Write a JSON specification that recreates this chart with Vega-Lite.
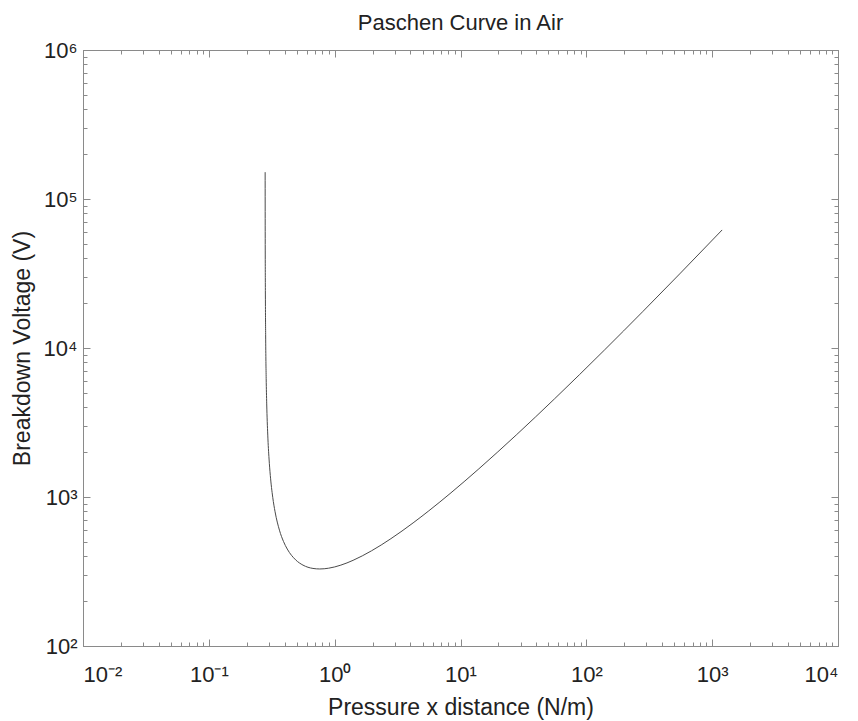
{
  "$schema": "https://vega.github.io/schema/vega-lite/v6.json",
  "width": 755,
  "height": 596,
  "autosize": {"type": "none"},
  "padding": {"left": 83, "top": 50, "right": 20, "bottom": 75},
  "background": "white",
  "title": {
    "text": "Paschen Curve in Air",
    "font": "Liberation Sans",
    "fontSize": 22,
    "fontWeight": "normal",
    "color": "#222",
    "anchor": "middle",
    "offset": 4
  },
  "config": {
    "view": {"stroke": "#8a8a8a", "strokeWidth": 1},
    "axis": {
      "grid": false,
      "domainColor": "#8a8a8a",
      "tickColor": "#8a8a8a",
      "labelFont": "Liberation Sans",
      "titleFont": "Liberation Sans",
      "labelColor": "#222",
      "titleColor": "#222",
      "titleFontWeight": "normal",
      "labelFontSize": 22,
      "titleFontSize": 23,
      "labelOverlap": false
    }
  },
  "data": {
    "values": [
      {"pd": 0.280224, "V": 151380},
      {"pd": 0.28056, "V": 60662},
      {"pd": 0.2814, "V": 24374},
      {"pd": 0.2828, "V": 12278},
      {"pd": 0.2856, "V": 6230},
      {"pd": 0.2884, "V": 4215},
      {"pd": 0.294, "V": 2603},
      {"pd": 0.301, "V": 1798},
      {"pd": 0.308, "V": 1396},
      {"pd": 0.322, "V": 995},
      {"pd": 0.336, "V": 796},
      {"pd": 0.364, "V": 599},
      {"pd": 0.392, "V": 503},
      {"pd": 0.42, "V": 447.5},
      {"pd": 0.49, "V": 378.3},
      {"pd": 0.56, "V": 349.0},
      {"pd": 0.672, "V": 331.6},
      {"pd": 0.761, "V": 328.8},
      {"pd": 0.896, "V": 332.8},
      {"pd": 1.12, "V": 349.0},
      {"pd": 1.4, "V": 375.8},
      {"pd": 1.96, "V": 435.1},
      {"pd": 2.8, "V": 525.3},
      {"pd": 4.2, "V": 670.0},
      {"pd": 5.6, "V": 807.6},
      {"pd": 8.4, "V": 1066.9},
      {"pd": 14, "V": 1546},
      {"pd": 28, "V": 2627},
      {"pd": 56, "V": 4566},
      {"pd": 140, "V": 9732},
      {"pd": 280, "V": 17510},
      {"pd": 560, "V": 31828},
      {"pd": 1200, "V": 61991}
    ]
  },
  "layer": [
    {
      "mark": {"type": "line", "color": "#4a4a4a", "strokeWidth": 1, "interpolate": "monotone", "clip": true},
      "encoding": {
        "x": {
          "field": "pd", "type": "quantitative",
          "scale": {"type": "log", "domain": [0.01, 10000], "nice": false},
          "axis": {
            "orient": "bottom",
            "title": "Pressure x distance (N/m)",
            "titlePadding": 8,
            "labelPadding": 25,
            "tickSize": {"condition": {"test": "abs(log(datum.value)/LN10 - round(log(datum.value)/LN10)) < 1e-6", "value": -7}, "value": -4},
            "labelExpr": "abs(log(datum.value)/LN10 - round(log(datum.value)/LN10)) < 1e-6 ? '10' + (round(log(datum.value)/LN10) < 0 ? '⁻' : '') + ['⁰','¹','²','³','⁴','⁵','⁶','⁷','⁸','⁹'][abs(round(log(datum.value)/LN10))] : ''"
          }
        },
        "y": {
          "field": "V", "type": "quantitative",
          "scale": {"type": "log", "domain": [100, 1000000], "nice": false},
          "axis": {
            "orient": "left",
            "title": "Breakdown Voltage (V)",
            "titlePadding": 9,
            "labelPadding": 13,
            "tickSize": {"condition": {"test": "abs(log(datum.value)/LN10 - round(log(datum.value)/LN10)) < 1e-6", "value": -7}, "value": -4},
            "labelExpr": "abs(log(datum.value)/LN10 - round(log(datum.value)/LN10)) < 1e-6 ? '10' + (round(log(datum.value)/LN10) < 0 ? '⁻' : '') + ['⁰','¹','²','³','⁴','⁵','⁶','⁷','⁸','⁹'][abs(round(log(datum.value)/LN10))] : ''"
          }
        }
      }
    },
    {
      "mark": {"type": "line", "color": "#444", "strokeWidth": 1, "opacity": 0},
      "encoding": {
        "x": {
          "field": "pd", "type": "quantitative",
          "scale": {"type": "log", "domain": [0.01, 10000], "nice": false},
          "axis": {
            "orient": "top", "title": null, "labels": false,
            "tickSize": {"condition": {"test": "abs(log(datum.value)/LN10 - round(log(datum.value)/LN10)) < 1e-6", "value": -7}, "value": -4}
          }
        },
        "y": {
          "field": "V", "type": "quantitative",
          "scale": {"type": "log", "domain": [100, 1000000], "nice": false},
          "axis": {
            "orient": "right", "title": null, "labels": false,
            "tickSize": {"condition": {"test": "abs(log(datum.value)/LN10 - round(log(datum.value)/LN10)) < 1e-6", "value": -7}, "value": -4}
          }
        }
      }
    }
  ],
  "resolve": {"axis": {"x": "independent", "y": "independent"}}
}
